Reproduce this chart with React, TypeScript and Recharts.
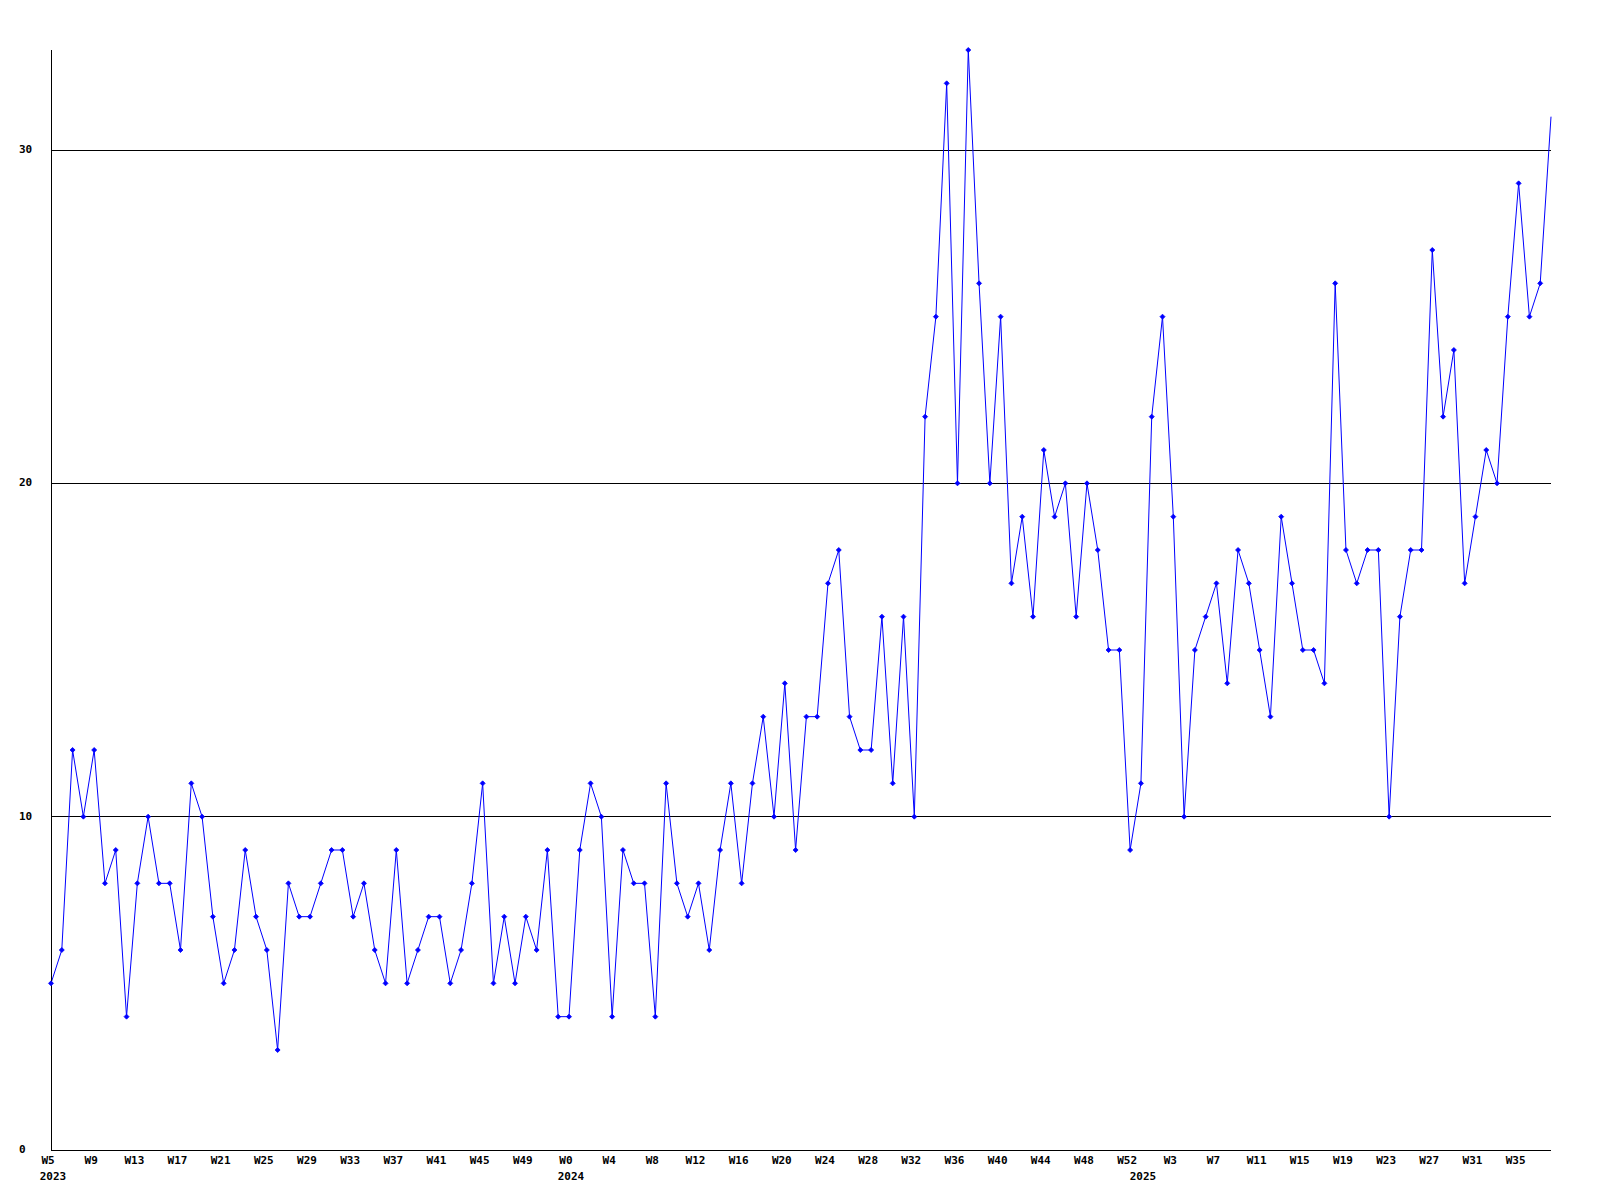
import React from 'react';
import { LineChart, Line, XAxis, YAxis, CartesianGrid } from 'recharts';

// weekly counts, one list per year (first week of each year below)
const years = [2023, 2024, 2025];
const firstWeeks = [5, 0, 0];

const values2023 = [
  5, 6, 12, 10, 12, 8, 9, 4, 8, 10, 8, 8, 6, 11, 10, 7, 5, 6, 9, 7, 6, 3, 8, 7,
  7, 8, 9, 9, 7, 8, 6, 5, 9, 5, 6, 7, 7, 5, 6, 8, 11, 5, 7, 5, 7, 6, 9, 4,
];
const values2024 = [
  4, 9, 11, 10, 4, 9, 8, 8, 4, 11, 8, 7, 8, 6, 9, 11, 8, 11, 13, 10, 14, 9, 13,
  13, 17, 18, 13, 12, 12, 16, 11, 16, 10, 22, 25, 32, 20, 33, 26, 20, 25, 17, 19,
  16, 21, 19, 20, 16, 20, 18, 15, 15, 9,
];
const values2025 = [
  11, 22, 25, 19, 10, 15, 16, 17, 14, 18, 17, 15, 13, 19, 17, 15, 15, 14, 26, 18,
  17, 18, 18, 10, 16, 18, 18, 27, 22, 24, 17, 19, 21, 20, 25, 29, 25, 26, 31,
];

const yTicks = [0, 10, 20, 30];
const gridValues = [10, 20, 30];

type Row = { idx: number; week: string; year: number; yearStart: boolean; count: number };

const data: Row[] = [];
[values2023, values2024, values2025].forEach((vals, y) => {
  vals.forEach((v, k) => {
    data.push({
      idx: data.length,
      week: `W${firstWeeks[y] + k}`,
      year: years[y],
      yearStart: k === 0,
      count: v,
    });
  });
});

const xTicks = data.filter((d) => d.idx % 4 === 0 || d.yearStart).map((d) => d.idx);

const font = {
  fontFamily: '"DejaVu Sans Mono", monospace',
  fontWeight: 'bold' as const,
  fontSize: 11,
  fill: '#000',
};

const WeekTick = (props: any) => {
  const { x, y, payload } = props;
  const d = data[payload.value];
  if (!d) return <g />;
  return (
    <g>
      {d.idx % 4 === 0 && (
        <text x={x - 3} y={y + 11} textAnchor="middle" dominantBaseline="middle" {...font}>
          {d.week}
        </text>
      )}
      {d.yearStart && (
        <text x={x + 2} y={y + 27} textAnchor="middle" dominantBaseline="middle" {...font}>
          {d.year}
        </text>
      )}
    </g>
  );
};

const CountTick = (props: any) => {
  const { x, y, payload } = props;
  return (
    <text x={x - 32} y={y} textAnchor="start" dominantBaseline="middle" {...font}>
      {payload.value}
    </text>
  );
};

const renderDot = (p: any) => {
  const { cx, cy, index } = p;
  if (index === data.length - 1) return <g key={`d${index}`} />;
  return (
    <path
      key={`d${index}`}
      d={`M${cx},${cy - 2.5}L${cx + 2.5},${cy}L${cx},${cy + 2.5}L${cx - 2.5},${cy}Z`}
      fill="#0000ff"
      stroke="#0000ff"
      strokeWidth={0.8}
    />
  );
};

export default function App() {
  return (
    <div style={{ position: 'absolute', left: 0, top: 0, background: '#fff' }}>
      <LineChart
        width={1600}
        height={1200}
        data={data}
        margin={{ top: 50, right: 49, bottom: 0, left: 0 }}
      >
        <CartesianGrid
          vertical={false}
          stroke="#000"
          shapeRendering="crispEdges"
          horizontalValues={gridValues}
        />
        <XAxis
          type="number"
          dataKey="idx"
          domain={[0, data.length - 1]}
          ticks={xTicks}
          interval={0}
          height={50}
          tickLine={false}
          tickSize={0}
          tickMargin={0}
          axisLine={{ stroke: '#000', shapeRendering: 'crispEdges' }}
          tick={<WeekTick />}
        />
        <YAxis
          type="number"
          domain={[0, 33]}
          ticks={yTicks}
          interval={0}
          width={51}
          tickLine={false}
          tickSize={0}
          tickMargin={0}
          axisLine={{ stroke: '#000', shapeRendering: 'crispEdges' }}
          tick={<CountTick />}
        />
        <Line
          type="linear"
          dataKey="count"
          stroke="#0000ff"
          strokeWidth={1}
          dot={renderDot}
          activeDot={false}
          isAnimationActive={false}
        />
      </LineChart>
    </div>
  );
}
